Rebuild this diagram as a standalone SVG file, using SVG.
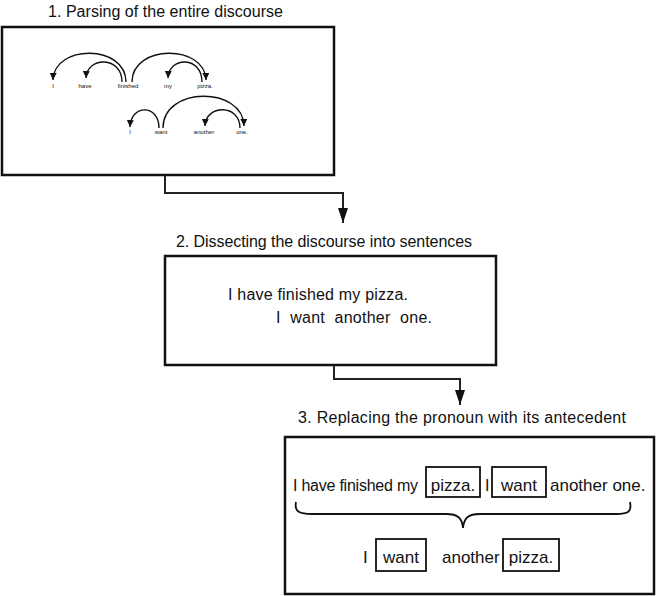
<svg xmlns="http://www.w3.org/2000/svg" width="656" height="596" viewBox="0 0 656 596">
  <style>
    .box { fill: #fff; stroke: #111; stroke-width: 2.5; }
    .wbox { fill: none; stroke: #111; stroke-width: 1.8; }
    .title { font-family: "Liberation Sans", Arial, sans-serif; font-size: 16px; fill: #111; }
    .txt { font-family: "Liberation Sans", Arial, sans-serif; font-size: 16px; fill: #111; }
    .big { font-family: "Liberation Sans", Arial, sans-serif; font-size: 17px; fill: #111; }
    .mid { text-anchor: middle; }
    .tiny { font-family: "Liberation Sans", Arial, sans-serif; font-size: 6px; fill: #111; text-anchor: middle; }
    .arc { fill: none; stroke: #111; stroke-width: 1.4; marker-end: url(#small); }
    .conn { fill: none; stroke: #222; stroke-width: 2; marker-end: url(#big); }
    .brace { fill: none; stroke: #111; stroke-width: 1.8; }
  </style>
  <defs>
    <marker id="small" viewBox="0 0 10 10" refX="10" refY="5" markerWidth="7" markerHeight="7" markerUnits="userSpaceOnUse" orient="auto">
      <path d="M0,0 L10,5 L0,10 Z" fill="#111"/>
    </marker>
    <marker id="big" viewBox="0 0 15 10" refX="15" refY="5" markerWidth="15" markerHeight="10" markerUnits="userSpaceOnUse" orient="auto">
      <path d="M0,0 L15,5 L0,10 Z" fill="#111"/>
    </marker>
  </defs>

  <!-- step 1: dependency parse of the whole discourse -->
  <g id="step1">
    <text class="title" x="48" y="17" textLength="235">1. Parsing of the entire discourse</text>
    <rect class="box" x="2" y="27" width="332" height="148"/>
    <g id="parse-row1">
      <text class="tiny" x="53" y="88">I</text>
      <text class="tiny" x="85" y="88">have</text>
      <text class="tiny" x="128" y="88">finished</text>
      <text class="tiny" x="168" y="88">my</text>
      <text class="tiny" x="205" y="88">pizza.</text>
      <path class="arc" d="M126,82 C126,44 54,44 53,80"/>
      <path class="arc" d="M122,82 C122,56 87,56 86,78"/>
      <path class="arc" d="M132,82 C132,44 205,44 206,80"/>
      <path class="arc" d="M202,82 C202,56 169,56 168,78"/>
    </g>
    <g id="parse-row2">
      <text class="tiny" x="130" y="134">I</text>
      <text class="tiny" x="161" y="134">want</text>
      <text class="tiny" x="204" y="134">another</text>
      <text class="tiny" x="242" y="134">one.</text>
      <path class="arc" d="M159,128 C159,104 131,104 130,127"/>
      <path class="arc" d="M163,128 C163,86 243,86 244,126"/>
      <path class="arc" d="M240,128 C240,104 206,104 205,126"/>
    </g>
  </g>

  <!-- step 2: split into sentences -->
  <g id="step2">
    <text class="title" x="176" y="247" textLength="296">2. Dissecting the discourse into sentences</text>
    <rect class="box" x="165" y="256" width="331" height="109"/>
    <text class="txt" x="228" y="300" textLength="180">I have finished my pizza.</text>
    <text class="txt" x="276" y="323" xml:space="preserve" textLength="156">I  want  another  one.</text>
  </g>

  <!-- step 3: pronoun resolution -->
  <g id="step3">
    <text class="title" x="298" y="423" textLength="328">3. Replacing the pronoun with its antecedent</text>
    <rect class="box" x="285" y="437" width="369" height="157"/>
    <text class="txt" x="293" y="491" textLength="125">I have finished my</text>
    <rect class="wbox" x="426" y="467" width="54" height="30"/>
    <text class="big mid" x="453" y="491">pizza.</text>
    <text class="txt" x="485" y="491">I</text>
    <rect class="wbox" x="492" y="467" width="54" height="30"/>
    <text class="big mid" x="519" y="491">want</text>
    <text class="big" x="550" y="491">another one.</text>
    <path class="brace" d="M296,502 C294,512 300,514 312,514 L446,514 C458,514 462,518 463,528 C464,518 468,514 480,514 L616,514 C628,514 632,512 630,502"/>
    <text class="big" x="363" y="563">I</text>
    <rect class="wbox" x="376" y="539" width="50" height="32"/>
    <text class="big mid" x="401" y="563">want</text>
    <text class="big" x="442" y="563">another</text>
    <rect class="wbox" x="503" y="539" width="56" height="32"/>
    <text class="big mid" x="531" y="563">pizza.</text>
  </g>

  <g id="connectors">
    <path class="conn" d="M165,175 L165,193 L343,193 L343,223"/>
    <path class="conn" d="M334,365 L334,379 L460,379 L460,405"/>
  </g>
</svg>
